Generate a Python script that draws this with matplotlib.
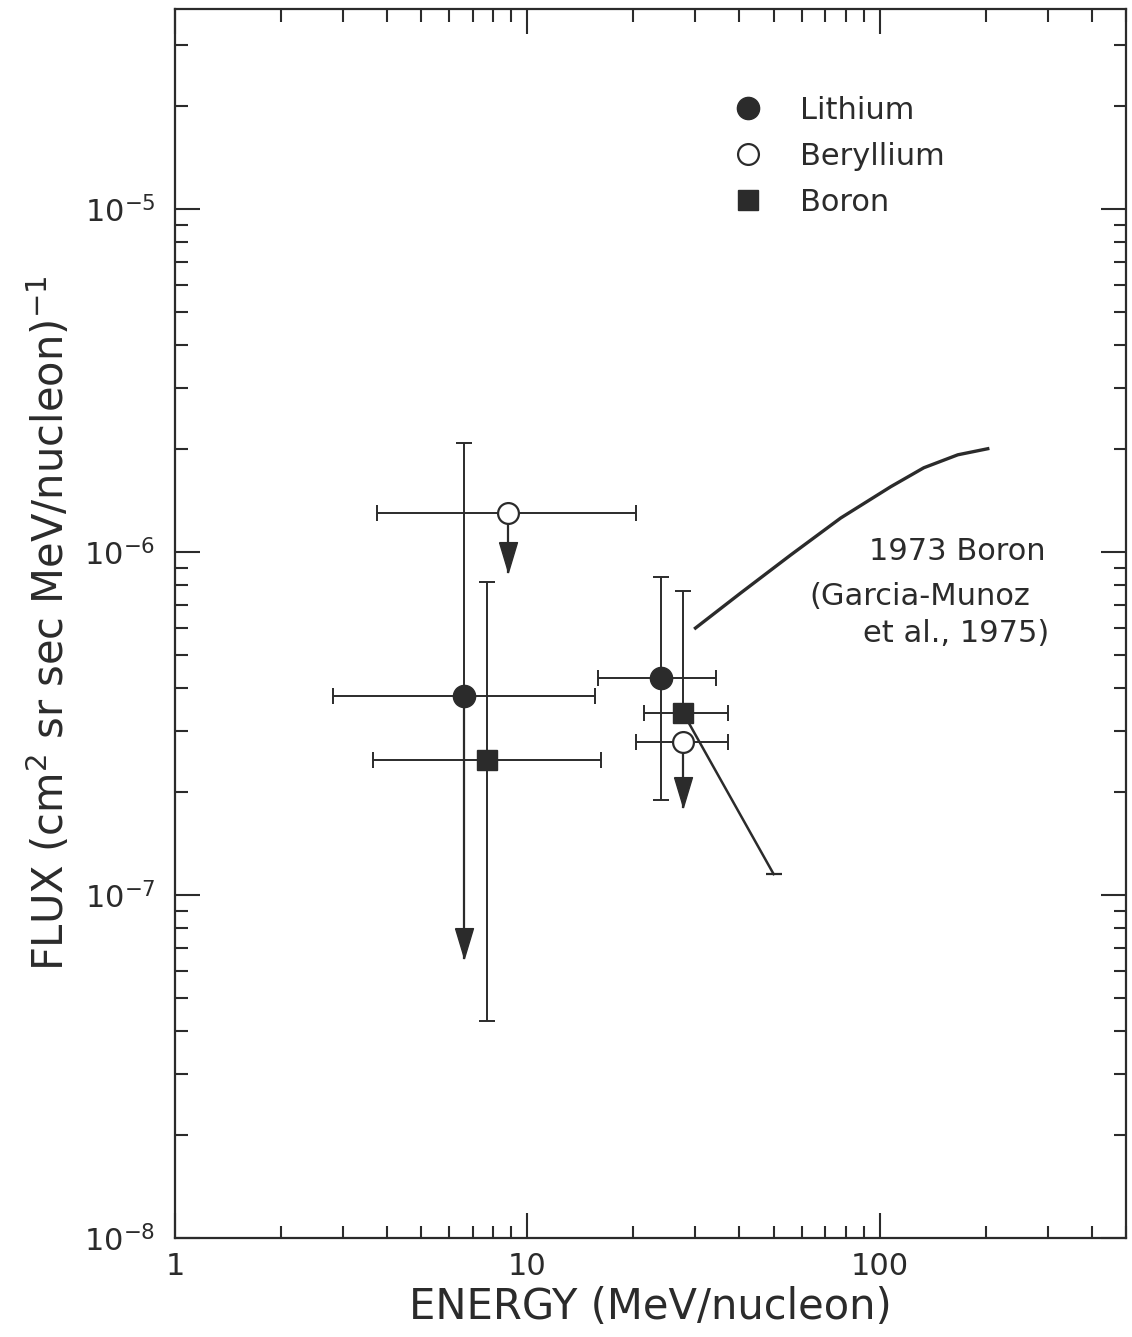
import numpy as np
import matplotlib.pyplot as plt
from matplotlib.lines import Line2D
from matplotlib.ticker import LogLocator, NullFormatter, FixedLocator, FixedFormatter

plt.rcParams['font.family'] = ['DejaVu Sans']
plt.rcParams['mathtext.default'] = 'regular'

ink = '#2b2b2b'

# Lithium points (energy, flux) with bars
li_x = [6.6, 23.9]
li_y = [3.8e-7, 4.3e-7]
li_xlo = [2.8, 15.9]
li_xhi = [15.6, 34.2]
li_yhi = [2.08e-6, 8.45e-7]
li_ylo = [3.8e-7, 1.89e-7]   # first one is an arrow instead
li_tip = [6.55e-8, None]

# Beryllium upper limits
be_x = [8.8, 27.7]
be_y = [1.3e-6, 2.8e-7]
be_xlo = [3.75, 20.4]
be_xhi = [20.3, 37.0]
be_tip = [8.75e-7, 1.81e-7]

# Boron points
b_x = [7.7, 27.7]
b_y = [2.47e-7, 3.39e-7]
b_xlo = [3.65, 21.5]
b_xhi = [16.2, 37.0]
b_yhi = [8.2e-7, 7.7e-7]
b_ylo = [4.3e-8, 3.39e-7]

# line from the boron point down to higher energy
b_line_x = [27.7, 50.0]
b_line_y = [3.39e-7, 1.15e-7]

# 1973 Boron curve (Garcia-Munoz et al., 1975)
curve_x = [30.0, 40.3, 55.9, 77.5, 107.5, 133.4, 166.6, 202.6]
curve_y = [6.0e-7, 7.59e-7, 9.8e-7, 1.256e-6, 1.55e-6, 1.76e-6, 1.92e-6, 2.0e-6]

xticks = [1, 10, 100]
xtick_labels = ['1', '10', '100']


def err(v, lo, hi):
    v = np.array(v)
    return [v - np.array(lo), np.array(hi) - v]


fig = plt.figure(figsize=(11.32, 13.37), dpi=100)
ax = fig.add_axes([0.1546, 0.0741, 0.8401, 0.9192])
ax.set_xscale('log')
ax.set_yscale('log')
ax.set_xlim(1, 500)
ax.set_ylim(1e-8, 3.83e-5)

ebkw = dict(fmt='none', ecolor=ink, elinewidth=1.4, capsize=6, capthick=1.4, zorder=2)
ax.errorbar(li_x, li_y, xerr=err(li_x, li_xlo, li_xhi), yerr=err(li_y, li_ylo, li_yhi), **ebkw)
ax.errorbar(be_x, be_y, xerr=err(be_x, be_xlo, be_xhi), **ebkw)
ax.errorbar(b_x, b_y, xerr=err(b_x, b_xlo, b_xhi), yerr=err(b_y, b_ylo, b_yhi), **ebkw)

# downward arrows (upper limits)
tri = [(-0.3, 1), (0.3, 1), (0, 0), (-0.3, 1)]
for xs, ys, tips in [(li_x, li_y, li_tip), (be_x, be_y, be_tip)]:
    for x, y, t in zip(xs, ys, tips):
        if t is None:
            continue
        ax.plot([x, x], [y, t], color=ink, lw=1.6, zorder=2)
        ax.plot(x, t, marker=tri, ms=43, color=ink, mec=ink, ls='none', zorder=3)

ax.plot(b_line_x, b_line_y, color=ink, lw=1.8, zorder=1)
ax.plot(b_line_x[-1], b_line_y[-1], marker='_', ms=12, mew=1.6, color=ink, zorder=1)

ax.plot(curve_x, curve_y, color=ink, lw=2.4, zorder=1)

ax.plot(li_x, li_y, 'o', ms=16, color=ink, mec=ink, ls='none', zorder=4)
ax.plot(be_x, be_y, 'o', ms=15, mfc='white', mec=ink, mew=1.6, ls='none', zorder=4)
ax.plot(b_x, b_y, 's', ms=15, color=ink, mec=ink, ls='none', zorder=4)

tkw = dict(ha='right', va='center', fontsize=22, color=ink)
ax.text(296, 1.0e-6, '1973 Boron', **tkw)
ax.text(268, 7.4e-7, '(Garcia-Munoz', **tkw)
ax.text(302, 5.8e-7, 'et al., 1975)', **tkw)

handles = [
    Line2D([], [], marker='o', ms=16, color=ink, ls='none'),
    Line2D([], [], marker='o', ms=15, mfc='white', mec=ink, mew=1.6, ls='none'),
    Line2D([], [], marker='s', ms=15, color=ink, ls='none'),
]
ax.legend(handles, ['Lithium', 'Beryllium', 'Boron'], loc='upper left',
          bbox_to_anchor=(0.570, 0.942), frameon=False, fontsize=22,
          handlelength=1.0, handletextpad=1.2, labelspacing=0.56, borderpad=0,
          labelcolor=ink)

ax.xaxis.set_major_locator(FixedLocator(xticks))
ax.xaxis.set_major_formatter(FixedFormatter(xtick_labels))
ax.xaxis.set_minor_locator(LogLocator(base=10, subs=np.arange(2, 10)))
ax.xaxis.set_minor_formatter(NullFormatter())
ax.yaxis.set_minor_locator(LogLocator(base=10, subs=np.arange(2, 10), numticks=20))
ax.yaxis.set_minor_formatter(NullFormatter())

ax.tick_params(which='both', direction='in', top=True, right=True, color=ink, labelcolor=ink)
ax.tick_params(which='major', length=18, width=1.5, labelsize=22)
ax.tick_params(which='minor', length=9, width=1.5)
ax.tick_params(axis='x', which='major', pad=10)
ax.tick_params(axis='y', which='major', pad=14)
for s in ax.spines.values():
    s.set_linewidth(1.6)
    s.set_color(ink)

ax.set_xlabel('ENERGY (MeV/nucleon)', fontsize=30, color=ink, labelpad=4)
ax.set_ylabel('FLUX (cm$^2$ sr sec MeV/nucleon)$^{-1}$', fontsize=30, color=ink, labelpad=8)

fig.savefig('out.png', dpi=100)
